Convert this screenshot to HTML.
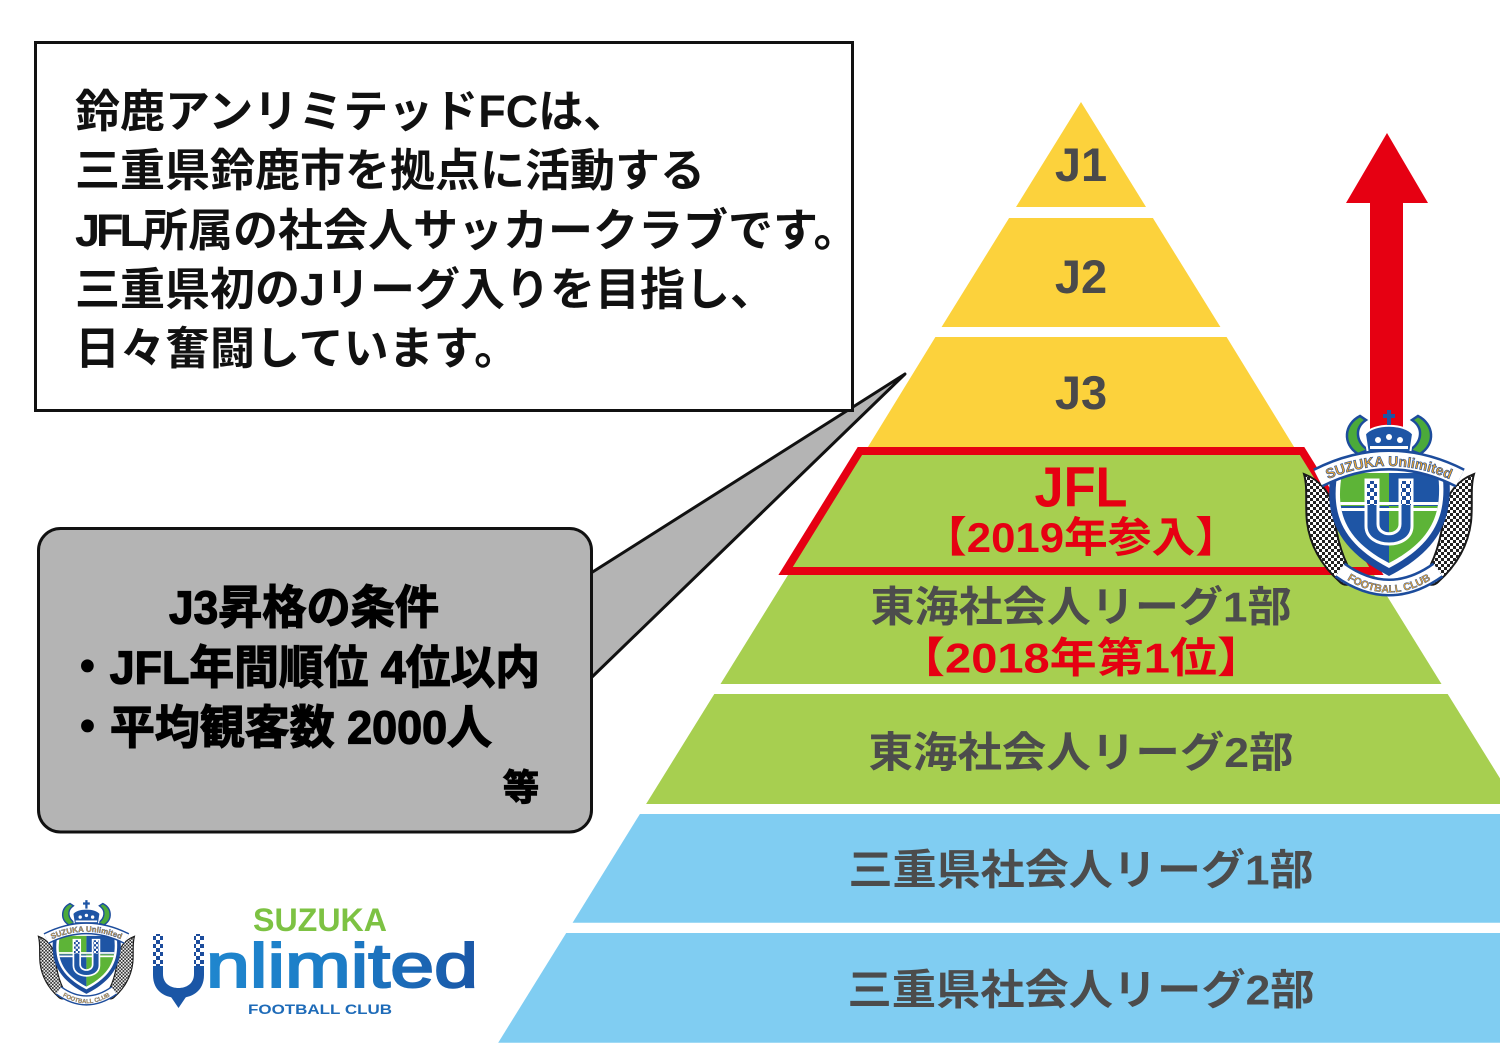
<!DOCTYPE html>
<html><head><meta charset="utf-8"><style>
html,body{margin:0;padding:0;background:#fff;}
svg{display:block;}
.jp{font-family:"Liberation Sans","Noto Sans CJK JP",sans-serif;}
</style></head><body>
<svg width="1500" height="1051" viewBox="0 0 1500 1051" xmlns="http://www.w3.org/2000/svg">
<defs>
  <pattern id="chk" width="6" height="6" patternUnits="userSpaceOnUse"><rect width="6" height="6" fill="#fff"/><rect width="3" height="3" fill="#222"/><rect x="3" y="3" width="3" height="3" fill="#222"/></pattern>
  <pattern id="chkb" width="8" height="8" patternUnits="userSpaceOnUse"><rect width="8" height="8" fill="#fff"/><rect width="4" height="4" fill="#1C4C9C"/><rect x="4" y="4" width="4" height="4" fill="#1C4C9C"/></pattern>
  <clipPath id="shinA"><path d="M44 65 L140 65 C 144 100, 139 130, 91 155 C 43 130, 38 100, 44 65 Z"/></clipPath>
  <clipPath id="shinB"><path d="M44 65 L140 65 C 144 100, 139 130, 91 155 C 43 130, 38 100, 44 65 Z"/></clipPath>
  <path id="ribA" d="M20 76 Q 91 40 162 76"/>
  <path id="ribB" d="M20 76 Q 91 40 162 76"/>
  <path id="botA" d="M42 167 Q 91 202 140 167"/>
  <path id="botB" d="M42 167 Q 91 202 140 167"/>
  <linearGradient id="ulg" x1="0" x2="1" y1="0" y2="0"><stop offset="0" stop-color="#1F86CE"/><stop offset="0.5" stop-color="#1C7CC6"/><stop offset="1" stop-color="#1A56A6"/></linearGradient>
</defs>

<!-- Pyramid -->
<polygon points="1081,102 1146,207 1016,207" fill="#FCD23C"/>
<polygon points="1009.1,218 1152.9,218 1220.4,327 941.6,327" fill="#FCD23C"/>
<polygon points="935.4,337 1226.6,337 1294.7,448 867.3,448" fill="#FCD23C"/>
<polygon points="857.7,447 1304.3,447 1383.6,575 778.4,575" fill="#E60012"/>
<polygon points="862.1,455 1299.9,455 1369.2,567 792.8,567" fill="#A7CF50"/>
<polygon points="788,575 1374,575 1441.5,684 720.5,684" fill="#A7CF50"/>
<polygon points="714.3,694 1447.7,694 1515.9,804 646.1,804" fill="#A7CF50"/>
<polygon points="639.9,814 1522,814 1589.4,922.7 572.6,922.7" fill="#80CDF2"/>
<polygon points="566.2,933 1595.8,933 1663.8,1042.7 498.2,1042.7" fill="#80CDF2"/>

<g fill="#4A4A4A" font-family="Liberation Sans, sans-serif" font-weight="bold" text-anchor="middle">
  <text x="1081" y="181" font-size="47">J1</text>
  <text x="1081" y="293" font-size="47">J2</text>
  <text x="1081" y="409" font-size="47">J3</text>
</g>
<text x="1081" y="506.5" font-size="57" font-weight="bold" fill="#E60012" text-anchor="middle" font-family="Liberation Sans, sans-serif" textLength="93" lengthAdjust="spacingAndGlyphs">JFL</text>
<text class="jp" x="1081" y="552" font-size="42" font-weight="bold" fill="#E60012" text-anchor="middle" textLength="316" lengthAdjust="spacingAndGlyphs">【2019年参入】</text>

<g class="jp" fill="#4C4C4C" font-weight="bold" font-size="42" text-anchor="middle">
  <text x="1081" y="621.5" textLength="421" lengthAdjust="spacingAndGlyphs">東海社会人リーグ1部</text>
  <text x="1081" y="767" textLength="425" lengthAdjust="spacingAndGlyphs">東海社会人リーグ2部</text>
  <text x="1081" y="884.5" textLength="465" lengthAdjust="spacingAndGlyphs">三重県社会人リーグ1部</text>
  <text x="1081" y="1004.5" textLength="467" lengthAdjust="spacingAndGlyphs">三重県社会人リーグ2部</text>
</g>
<text class="jp" x="1081" y="672.5" font-size="42" font-weight="bold" fill="#E60012" text-anchor="middle" textLength="366" lengthAdjust="spacingAndGlyphs">【2018年第1位】</text>

<!-- Arrow -->
<polygon points="1387,133 1428,203 1403,203 1403,445 1370,445 1370,203 1346,203" fill="#E60012"/>

<!-- Crest right -->
<g transform="translate(1298,408)">
  <path d="M6 66 C 22 72, 34 86, 36 104 C 38 128, 44 152, 58 172 C 52 178, 46 178, 42 174 C 24 158, 12 138, 9 114 C 7 96, 10 80, 6 66 Z" fill="url(#chk)" stroke="#1a1a1a" stroke-width="2"/>
  <path transform="translate(182,0) scale(-1,1)" d="M6 66 C 22 72, 34 86, 36 104 C 38 128, 44 152, 58 172 C 52 178, 46 178, 42 174 C 24 158, 12 138, 9 114 C 7 96, 10 80, 6 66 Z" fill="url(#chk)" stroke="#1a1a1a" stroke-width="2"/>
  <path d="M62 8 C 46 16, 44 36, 60 46 L 70 42 C 58 34, 56 20, 68 12 Z" fill="#4BAA3A" stroke="#1C4C9C" stroke-width="2.5"/>
  <path transform="translate(182,0) scale(-1,1)" d="M62 8 C 46 16, 44 36, 60 46 L 70 42 C 58 34, 56 20, 68 12 Z" fill="#4BAA3A" stroke="#1C4C9C" stroke-width="2.5"/>
  <path d="M70 46 L67 26 C 76 15, 106 15, 115 26 L112 46 Z" fill="#1E55A5" stroke="#fff" stroke-width="2"/>
  <circle cx="80" cy="32" r="3" fill="#fff"/><circle cx="91" cy="29" r="3" fill="#fff"/><circle cx="102" cy="32" r="3" fill="#fff"/>
  <rect x="72" y="38" width="38" height="3" fill="#fff"/>
  <rect x="89" y="2" width="4" height="15" fill="#1E55A5"/>
  <rect x="85" y="6" width="12" height="4" fill="#1E55A5"/>
  <path d="M34 58 L150 58 C 156 100, 150 138, 91 168 C 32 138, 26 100, 34 58 Z" fill="#1C4C9C"/>
  <path d="M40 62 L144 62 C 149 100, 143 133, 91 160 C 39 133, 33 100, 40 62 Z" fill="#fff"/>
  <g clip-path="url(#shinA)">
    <rect x="30" y="60" width="61" height="38" fill="#5DB437"/>
    <rect x="91" y="60" width="60" height="38" fill="#1E55A5"/>
    <rect x="30" y="98" width="61" height="72" fill="#1E55A5"/>
    <rect x="91" y="98" width="60" height="72" fill="#5DB437"/>
    <rect x="30" y="94" width="122" height="3" fill="#fff"/>
    <rect x="30" y="100" width="122" height="3" fill="#fff"/>
  </g>
  <path d="M68 72 L68 118 C 68 142, 114 142, 114 118 L114 72 L102 72 L102 116 C 102 129, 80 129, 80 116 L80 72 Z" fill="#1E55A5" stroke="#fff" stroke-width="3"/>
  <rect x="69" y="73" width="10" height="24" fill="url(#chkb)"/>
  <rect x="103" y="73" width="10" height="24" fill="url(#chkb)"/>
  <path d="M20 70 Q 91 34 162 70" stroke="#1C4C9C" stroke-width="21" fill="none"/>
  <path d="M20 70 Q 91 34 162 70" stroke="#fff" stroke-width="16" fill="none"/>
  <text font-family="Liberation Sans, sans-serif" font-weight="bold" font-size="14" fill="#EBA634" stroke="#1C4C9C" stroke-width="0.6"><textPath href="#ribA" startOffset="50%" text-anchor="middle">SUZUKA Unlimited</textPath></text>
  <path d="M42 162 Q 91 197 140 162" stroke="#1C4C9C" stroke-width="18" fill="none"/>
  <path d="M42 162 Q 91 197 140 162" stroke="#fff" stroke-width="13" fill="none"/>
  <text font-family="Liberation Sans, sans-serif" font-weight="bold" font-size="10.5" fill="#EBA634" stroke="#1C4C9C" stroke-width="0.4"><textPath href="#botA" startOffset="50%" text-anchor="middle">FOOTBALL CLUB</textPath></text>
</g>

<!-- Speech tail and grey box -->
<polygon points="591,573 905,374 591,678" fill="#B4B4B4" stroke="#111" stroke-width="3" stroke-linejoin="round"/>
<rect x="38.5" y="528.5" width="553" height="303.5" rx="22" ry="22" fill="#B4B4B4" stroke="#111" stroke-width="3"/>
<g class="jp" font-weight="bold" fill="#000" stroke="#000" stroke-width="1.3" font-size="46">
  <text x="169" y="623.5" textLength="270" lengthAdjust="spacingAndGlyphs">J3昇格の条件</text>
  <text x="65" y="683.5" textLength="475" lengthAdjust="spacingAndGlyphs">・JFL年間順位 4位以内</text>
  <text x="65" y="743.5" textLength="427" lengthAdjust="spacingAndGlyphs">・平均観客数 2000人</text>
  <text x="503" y="800" font-size="36">等</text>
</g>

<!-- Text box -->
<rect x="35.5" y="42.5" width="817" height="368" fill="#fff" stroke="#111" stroke-width="3"/>
<g class="jp" font-weight="bold" fill="#111" font-size="45">
  <text x="75" y="127">鈴鹿アンリミテッドFCは、</text>
  <text x="75" y="186">三重県鈴鹿市を拠点に活動する</text>
  <text x="75" y="246"><tspan letter-spacing="-4">JFL</tspan><tspan dx="0">所属の社会人サッカークラブです。</tspan></text>
  <text x="75" y="305">三重県初のJリーグ入りを目指し、</text>
  <text x="75" y="364">日々奮闘しています。</text>
</g>

<!-- Crest bottom-left -->
<g transform="translate(35,899) scale(0.565)">
  <path d="M6 66 C 22 72, 34 86, 36 104 C 38 128, 44 152, 58 172 C 52 178, 46 178, 42 174 C 24 158, 12 138, 9 114 C 7 96, 10 80, 6 66 Z" fill="url(#chk)" stroke="#1a1a1a" stroke-width="2"/>
  <path transform="translate(182,0) scale(-1,1)" d="M6 66 C 22 72, 34 86, 36 104 C 38 128, 44 152, 58 172 C 52 178, 46 178, 42 174 C 24 158, 12 138, 9 114 C 7 96, 10 80, 6 66 Z" fill="url(#chk)" stroke="#1a1a1a" stroke-width="2"/>
  <path d="M62 8 C 46 16, 44 36, 60 46 L 70 42 C 58 34, 56 20, 68 12 Z" fill="#4BAA3A" stroke="#1C4C9C" stroke-width="2.5"/>
  <path transform="translate(182,0) scale(-1,1)" d="M62 8 C 46 16, 44 36, 60 46 L 70 42 C 58 34, 56 20, 68 12 Z" fill="#4BAA3A" stroke="#1C4C9C" stroke-width="2.5"/>
  <path d="M70 46 L67 26 C 76 15, 106 15, 115 26 L112 46 Z" fill="#1E55A5" stroke="#fff" stroke-width="2"/>
  <circle cx="80" cy="32" r="3" fill="#fff"/><circle cx="91" cy="29" r="3" fill="#fff"/><circle cx="102" cy="32" r="3" fill="#fff"/>
  <rect x="72" y="38" width="38" height="3" fill="#fff"/>
  <rect x="89" y="2" width="4" height="15" fill="#1E55A5"/>
  <rect x="85" y="6" width="12" height="4" fill="#1E55A5"/>
  <path d="M34 58 L150 58 C 156 100, 150 138, 91 168 C 32 138, 26 100, 34 58 Z" fill="#1C4C9C"/>
  <path d="M40 62 L144 62 C 149 100, 143 133, 91 160 C 39 133, 33 100, 40 62 Z" fill="#fff"/>
  <g clip-path="url(#shinB)">
    <rect x="30" y="60" width="61" height="38" fill="#5DB437"/>
    <rect x="91" y="60" width="60" height="38" fill="#1E55A5"/>
    <rect x="30" y="98" width="61" height="72" fill="#1E55A5"/>
    <rect x="91" y="98" width="60" height="72" fill="#5DB437"/>
    <rect x="30" y="94" width="122" height="3" fill="#fff"/>
    <rect x="30" y="100" width="122" height="3" fill="#fff"/>
  </g>
  <path d="M68 72 L68 118 C 68 142, 114 142, 114 118 L114 72 L102 72 L102 116 C 102 129, 80 129, 80 116 L80 72 Z" fill="#1E55A5" stroke="#fff" stroke-width="3"/>
  <rect x="69" y="73" width="10" height="24" fill="url(#chkb)"/>
  <rect x="103" y="73" width="10" height="24" fill="url(#chkb)"/>
  <path d="M20 70 Q 91 34 162 70" stroke="#1C4C9C" stroke-width="21" fill="none"/>
  <path d="M20 70 Q 91 34 162 70" stroke="#fff" stroke-width="16" fill="none"/>
  <text font-family="Liberation Sans, sans-serif" font-weight="bold" font-size="14" fill="#EBA634" stroke="#1C4C9C" stroke-width="0.6"><textPath href="#ribB" startOffset="50%" text-anchor="middle">SUZUKA Unlimited</textPath></text>
  <path d="M42 162 Q 91 197 140 162" stroke="#1C4C9C" stroke-width="18" fill="none"/>
  <path d="M42 162 Q 91 197 140 162" stroke="#fff" stroke-width="13" fill="none"/>
  <text font-family="Liberation Sans, sans-serif" font-weight="bold" font-size="10.5" fill="#EBA634" stroke="#1C4C9C" stroke-width="0.4"><textPath href="#botB" startOffset="50%" text-anchor="middle">FOOTBALL CLUB</textPath></text>
</g>

<!-- Brand wordmark -->
<text x="253" y="931" font-family="Liberation Sans, sans-serif" font-weight="bold" font-size="32" fill="#7DC243" textLength="134" lengthAdjust="spacingAndGlyphs">SUZUKA</text>
<path d="M153 934 L153 975 C153 992, 166 998, 178.5 998 C191 998, 204 992, 204 975 L204 934 L194 934 L194 974 C194 984, 186 988, 178.5 988 C171 988, 163 984, 163 974 L163 934 Z" fill="#1A56A6"/>
<rect x="153" y="934" width="10" height="32" fill="url(#chkb)"/>
<rect x="194" y="934" width="10" height="32" fill="url(#chkb)"/>
<polygon points="169,994 188,994 178.5,1008" fill="#1A56A6"/>
<text x="206" y="987" font-family="Liberation Sans, sans-serif" font-size="62" fill="url(#ulg)" stroke="url(#ulg)" stroke-width="2" textLength="272" lengthAdjust="spacingAndGlyphs">nlimited</text>
<text x="248" y="1014" font-family="Liberation Sans, sans-serif" font-weight="bold" font-size="14" fill="#1E6BB8" textLength="144" lengthAdjust="spacingAndGlyphs">FOOTBALL CLUB</text>
</svg>
</body></html>
